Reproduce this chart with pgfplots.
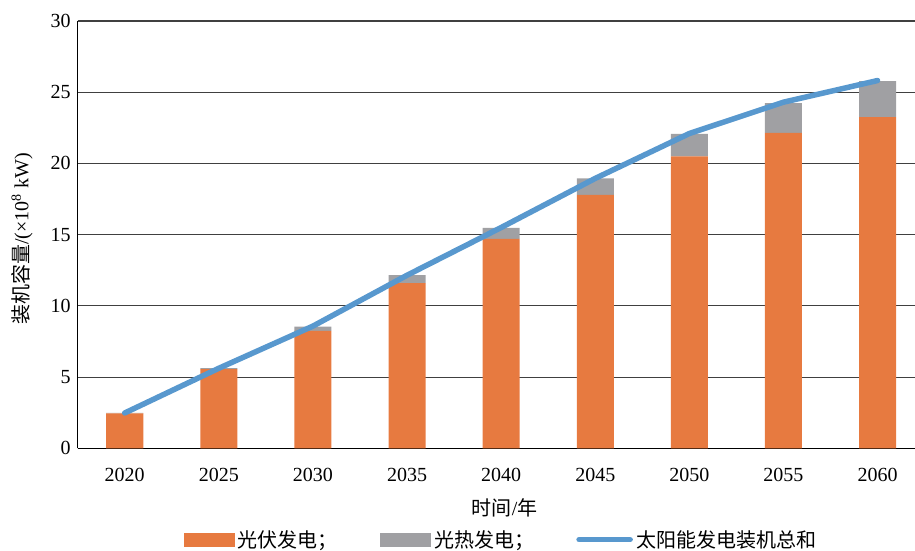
\documentclass[border=0pt]{standalone}
\usepackage{fontspec}
\setmainfont{Liberation Serif}
\newfontfamily\cjk{Noto Sans CJK SC}
\usepackage{pgfplots}
\usepackage{pgfplotstable}
\pgfplotsset{compat=1.18}

\definecolor{pv}{HTML}{E77A40}
\definecolor{csp}{HTML}{A0A0A3}
\definecolor{tot}{HTML}{5898CE}

% idx: 0 = 2020 ... 8 = 2060; capacity in 1e8 kW
\pgfplotstableread{
idx year pv    csp  total
0   2020 2.46  0.02 2.48
1   2025 5.55  0.08 5.62
2   2030 8.25  0.30 8.58
3   2035 11.60 0.56 12.15
4   2040 14.70 0.78 15.50
5   2045 17.80 1.15 18.95
6   2050 20.50 1.58 22.10
7   2055 22.15 2.08 24.30
8   2060 23.25 2.52 25.82
}\solar

\pgfplotsset{
    base/.style={
        scale only axis,
        width=837.3pt, height=427.3pt,
        xmin=-0.5, xmax=8.398,
        ymin=0, ymax=30,
        enlargelimits=false,
    },
}

\begin{document}
\begin{tikzpicture}[font=\fontsize{20}{24}\selectfont]
    \begin{axis}[%
            base,
            ybar stacked,
            bar width=37pt,
            axis x line*=bottom,
            axis y line*=left,
            axis line style={black, line width=1.4pt},
            ymajorgrids,
            grid style={black!75, line width=1.1pt},
            major tick length=0pt,
            xtick={0,...,8},
            xticklabels={2020,2025,2030,2035,2040,2045,2050,2055,2060},
            ytick={0,5,...,30},
            /pgf/number format/assume math mode=true,
            xticklabel style={yshift=-16pt},
            yticklabel style={xshift=-3.5pt},
            xlabel={{\cjk 时间}/{\cjk 年}},
            xlabel style={at={(axis description cs:0.51,-0.14)}, anchor=center},
            ylabel={{\cjk 装机容量}/(×10\textsuperscript{8} kW)},
            ylabel style={at={(axis description cs:-0.0665,0.49)}, anchor=center},
        ]
        \addplot[fill=pv, draw=none] table[x=idx, y=pv] {\solar};
        \addplot[fill=csp, draw=none] table[x=idx, y=csp] {\solar};
    \end{axis}
    \begin{axis}[%
            base,
            hide axis,
            legend columns=3,
            legend cell align=left,
            legend style={
                at={(0.507,-0.214)}, anchor=center,
                draw=none, fill=none,
                font=\fontsize{20}{24}\selectfont\cjk,
                nodes={inner sep=4pt},
                /tikz/every even column/.append style={column sep=38pt},
            },
        ]
        \addlegendimage{legend image code/.code={\fill[pv] (0pt,-6.5pt) rectangle (50pt,6.5pt);}}
        \addlegendentry{光伏发电；}
        \addlegendimage{legend image code/.code={\fill[csp] (0pt,-6.5pt) rectangle (50pt,6.5pt);}}
        \addlegendentry{光热发电；}
        \addplot[tot, line width=5.5pt, line cap=round, line join=round, mark=none,
            legend image code/.code={\draw[tot, line width=5.5pt, line cap=round] (2pt,0pt) -- (53pt,0pt);}]
            table[x=idx, y=total] {\solar};
        \addlegendentry{太阳能发电装机总和}
    \end{axis}
    \pgfresetboundingbox
    \path (-77.7pt,-102.7pt) rectangle (837.3pt,448.3pt);
\end{tikzpicture}
\end{document}
